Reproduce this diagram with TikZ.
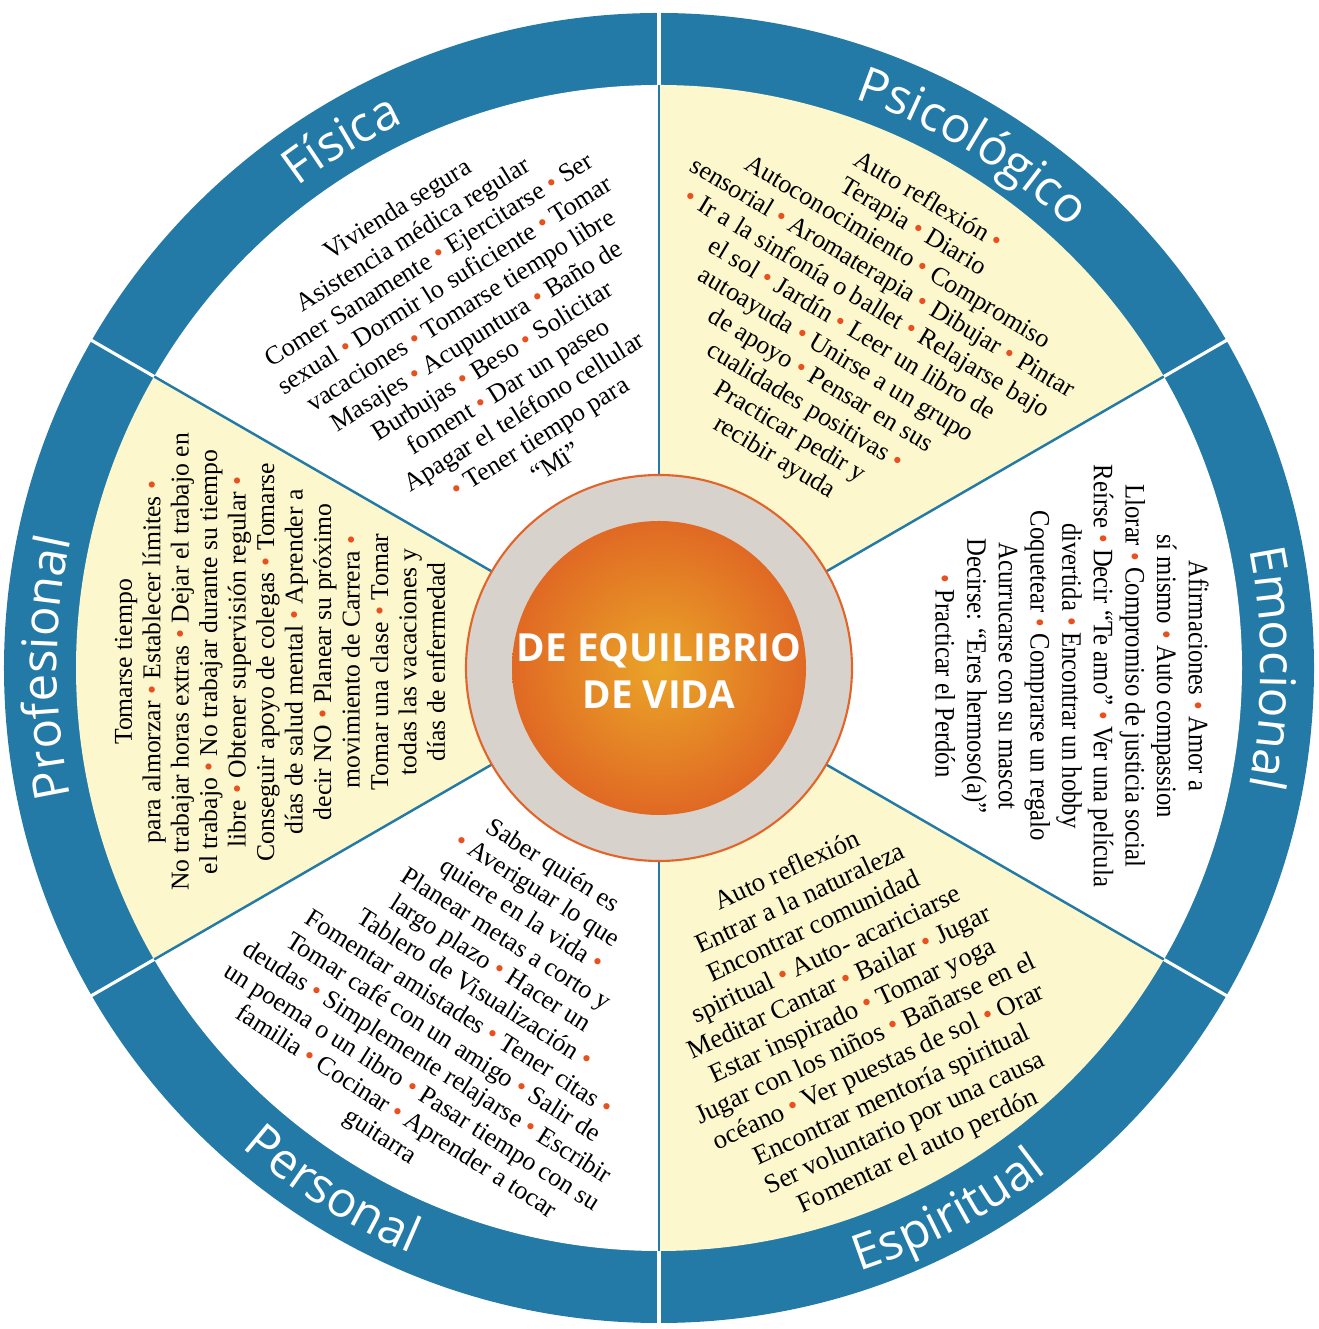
\documentclass[tikz,border=0pt]{standalone}
\usepackage{fontspec}
\setmainfont{Liberation Serif}
\setsansfont{Open Sans}
\newfontfamily\emofont[FakeStretch=0.88]{Liberation Serif}
\usetikzlibrary{decorations.text}
\definecolor{ringblue}{RGB}{36,122,166}
\definecolor{paleyellow}{RGB}{252,247,204}
\definecolor{dotred}{RGB}{232,80,30}
\definecolor{ringgrey}{RGB}{216,210,204}
\definecolor{ringorange}{RGB}{226,100,40}
\definecolor{coregold}{RGB}{234,165,40}
\definecolor{coreorange}{RGB}{224,105,36}
\newcommand\bul{\textcolor{dotred}{\textbullet}}
\newcommand\ringfont{\sffamily\fontsize{14}{14}\selectfont}
\tikzset{
  sectext/.style={align=center, inner sep=0pt, font=\fontsize{7.4}{8.5}\selectfont},
  ringlabel/.style={decorate, decoration={text along path, text align=center, text color=white, text={|\ringfont|#1}}},
  divider/.style={ringblue, line width=0.7pt},
  ringcut/.style={white, line width=0.9pt}
}
\begin{document}
\begin{tikzpicture}
\useasboundingbox (-6.59,-6.61) rectangle (6.59,6.68);
\fill[ringblue] (0,0) circle (6.55);
\foreach \a/\c in {30/paleyellow,90/white,150/paleyellow,210/white,270/paleyellow,330/white}
  \fill[\c] (0,0) -- (\a:5.83) arc[start angle=\a, end angle=\a+60, radius=5.83] -- cycle;
\foreach \a in {30,90,...,330} {
  \draw[divider] (0,0) -- (\a:5.83);
  \draw[ringcut] (\a:5.83) -- (\a:6.6);
}
\draw[ringorange, fill=ringgrey, line width=0.6pt] (0,0) circle (1.93);
\shade[inner color=coregold, outer color=coreorange] (0,0) circle (1.47);
\node[text=white, align=center, font=\sffamily\bfseries\fontsize{11}{13.4}\selectfont] (core) at (0,-0.03) {DE EQUILIBRIO\\DE VIDA};

\path[ringlabel=Física] (151:6.02) arc[start angle=151, end angle=91, radius=6.02];
\path[ringlabel=Psicológico] (89:6.02) arc[start angle=89, end angle=29, radius=6.02];
\path[ringlabel=Emocional] (30:6.02) arc[start angle=30, end angle=-30, radius=6.02];
\path[ringlabel=Espiritual] (268:6.36) arc[start angle=268, end angle=328, radius=6.36];
\path[ringlabel=Personal] (208:6.36) arc[start angle=208, end angle=268, radius=6.36];
\path[ringlabel=Profesional] (210:6.02) arc[start angle=210, end angle=150, radius=6.02];

\node[sectext, rotate=32] (fisica) at (-1.83,3.33) {Vivienda segura\\
Asistencia médica regular\\
Comer Sanamente \bul{} Ejercitarse \bul{} Ser\\
sexual \bul{} Dormir lo suficiente \bul{} Tomar\\
vacaciones \bul{} Tomarse tiempo libre\\
Masajes \bul{} Acupuntura \bul{} Baño de\\
Burbujas \bul{} Beso \bul{} Solicitar\\
foment \bul{} Dar un paseo\\
Apagar el teléfono cellular\\
\bul{} Tener tiempo para\\
“Mi”};
\node[sectext, rotate=-31] (psico) at (1.92,3.38) {Auto reflexión \bul\\
Terapia \bul{} Diario\\
Autoconocimiento \bul{} Compromiso\\
sensorial \bul{} Aromaterapia \bul{} Dibujar \bul{} Pintar\\
\bul{} Ir a la sinfonía o ballet \bul{} Relajarse bajo\\
el sol \bul{} Jardín \bul{} Leer un libro de\\
autoayuda \bul{} Unirse a un grupo\\
de apoyo \bul{} Pensar en sus\\
cualidades positivas \bul\\
Practicar pedir y\\
recibir ayuda};
\node[sectext, rotate=-90, font=\emofont\fontsize{8}{9}\selectfont] (emo) at (4.13,-0.08) {Afirmaciones \bul{} Amor a\\
sí mismo \bul{} Auto compassion\\
Llorar \bul{} Compromiso de justicia social\\
Reírse \bul{} Decir “Te amo” \bul{} Ver una película\\
divertida \bul{} Encontrar un hobby\\
Coquetear \bul{} Comprarse un regalo\\
Acurrucarse con su mascot\\
Decirse: “Eres hermoso(a)”\\
\bul{} Practicar el Perdón};
\node[sectext, rotate=25, font=\fontsize{7.6}{8.8}\selectfont] (espi) at (1.94,-3.44) {Auto reflexión\\
Entrar a la naturaleza\\
Encontrar comunidad\\
spiritual \bul{} Auto- acariciarse\\
Meditar Cantar \bul{} Bailar \bul{} Jugar\\
Estar inspirado \bul{} Tomar yoga\\
Jugar con los niños \bul{} Bañarse en el\\
océano \bul{} Ver puestas de sol \bul{} Orar\\
Encontrar mentoría spiritual\\
Ser voluntario por una causa\\
Fomentar el auto perdón};
\node[sectext, rotate=-32.5, font=\fontsize{7.4}{8.3}\selectfont] (perso) at (-1.93,-3.34) {Saber quién es\\
\bul{} Averiguar lo que\\
quiere en la vida \bul\\
Planear metas a corto y\\
largo plazo \bul{} Hacer un\\
Tablero de Visualización \bul\\
Fomentar amistades \bul{} Tener citas \bul\\
Tomar café con un amigo \bul{} Salir de\\
deudas \bul{} Simplemente relajarse \bul{} Escribir\\
un poema o un libro \bul{} Pasar tiempo con su\\
familia \bul{} Cocinar \bul{} Aprender a tocar\\
guitarra};
\node[sectext, rotate=90, font=\fontsize{7.3}{8.1}\selectfont] (profe) at (-3.79,0.06) {Tomarse tiempo\\
para almorzar \bul{} Establecer límites \bul\\
No trabajar horas extras \bul{} Dejar el trabajo en\\
el trabajo \bul{} No trabajar durante su tiempo\\
libre \bul{} Obtener supervisión regular \bul\\
Conseguir apoyo de colegas \bul{} Tomarse\\
días de salud mental \bul{} Aprender a\\
decir NO \bul{} Planear su próximo\\
movimiento de Carrera \bul\\
Tomar una clase \bul{} Tomar\\
todas las vacaciones y\\
días de enfermedad};
\end{tikzpicture}
\end{document}
